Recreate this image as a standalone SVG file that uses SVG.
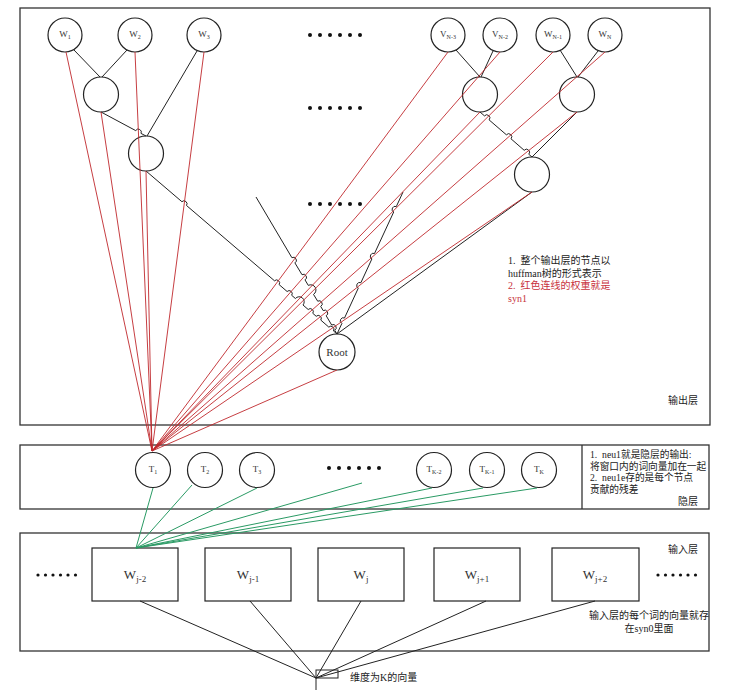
<svg xmlns="http://www.w3.org/2000/svg" width="732" height="696" viewBox="0 0 732 696">
<style>
.box{fill:none;stroke:#333;stroke-width:1.3}
.nd{fill:#fff;stroke:#222;stroke-width:1.2}
.ib{fill:#fff;stroke:#222;stroke-width:1.2}
.lb{font-family:"Liberation Serif","Noto Sans CJK SC",serif;font-size:9px;fill:#333;text-anchor:middle}
.sb{font-size:6px}
.il{font-family:"Liberation Serif","Noto Sans CJK SC",serif;font-size:13px;fill:#333;text-anchor:middle}
.is{font-size:9px}
.tx{font-family:"Liberation Serif","Noto Sans CJK SC",serif;font-size:10px;fill:#222}
.sm{font-size:9.7px}
.rd{fill:#c8323c}
.bl{stroke:#222;stroke-width:1;fill:none}
.re{stroke:#c0282d;stroke-width:0.9;fill:none}
.gr{stroke:#2a9a64;stroke-width:1;fill:none}
.dot{fill:#111}
</style>
<rect width="732" height="696" fill="#fff"/>
<g id="layers">
<rect class="box" x="20" y="8" width="690" height="417"/>
<rect class="box" x="20" y="445" width="689" height="64"/>
<line class="box" x1="582" y1="445" x2="582" y2="509"/>
<rect class="box" x="20" y="533" width="689" height="118"/>
</g>
<g id="nodes">
<g id="w1"><circle class="nd" cx="65" cy="35" r="17"/><text class="lb" x="65" y="37">W<tspan class="sb" dy="2">1</tspan></text></g>
<g id="w2"><circle class="nd" cx="135" cy="35" r="17"/><text class="lb" x="135" y="37">W<tspan class="sb" dy="2">2</tspan></text></g>
<g id="w3"><circle class="nd" cx="204" cy="35" r="17"/><text class="lb" x="204" y="37">W<tspan class="sb" dy="2">3</tspan></text></g>
<g id="vn3"><circle class="nd" cx="448" cy="35" r="17"/><text class="lb" x="448" y="37">V<tspan class="sb" dy="2">N-3</tspan></text></g>
<g id="vn2"><circle class="nd" cx="500" cy="35" r="17"/><text class="lb" x="500" y="37">V<tspan class="sb" dy="2">N-2</tspan></text></g>
<g id="wn1"><circle class="nd" cx="553" cy="35" r="17"/><text class="lb" x="553" y="37">W<tspan class="sb" dy="2">N-1</tspan></text></g>
<g id="wn"><circle class="nd" cx="605" cy="35" r="17"/><text class="lb" x="605" y="37">W<tspan class="sb" dy="2">N</tspan></text></g>
<g id="na"><circle class="nd" cx="101" cy="94.5" r="17.5"/></g>
<g id="nb"><circle class="nd" cx="146" cy="153.5" r="17.5"/></g>
<g id="nc"><circle class="nd" cx="480" cy="94.5" r="17.5"/></g>
<g id="ndd"><circle class="nd" cx="577" cy="94.5" r="17.5"/></g>
<g id="ne"><circle class="nd" cx="532" cy="174.5" r="17.5"/></g>
<g id="root"><circle class="nd" cx="337" cy="352" r="18"/><text class="lb" x="337" y="356" style="font-size:11px">Root</text></g>
<g id="t1"><circle class="nd" cx="153" cy="470" r="17.5"/><text class="lb" x="153" y="472">T<tspan class="sb" dy="2">1</tspan></text></g>
<g id="t2"><circle class="nd" cx="205" cy="470" r="17.5"/><text class="lb" x="205" y="472">T<tspan class="sb" dy="2">2</tspan></text></g>
<g id="t3"><circle class="nd" cx="257" cy="470" r="17.5"/><text class="lb" x="257" y="472">T<tspan class="sb" dy="2">3</tspan></text></g>
<g id="tk2"><circle class="nd" cx="434" cy="470" r="17.5"/><text class="lb" x="434" y="472">T<tspan class="sb" dy="2">K-2</tspan></text></g>
<g id="tk1"><circle class="nd" cx="487" cy="470" r="17.5"/><text class="lb" x="487" y="472">T<tspan class="sb" dy="2">K-1</tspan></text></g>
<g id="tk"><circle class="nd" cx="539" cy="470" r="17.5"/><text class="lb" x="539" y="472">T<tspan class="sb" dy="2">K</tspan></text></g>
<g id="in1"><rect class="ib" x="92" y="548" width="86" height="53"/><text class="il" x="135" y="579">W<tspan class="is" dy="3">j-2</tspan></text></g>
<g id="in2"><rect class="ib" x="205" y="548" width="86" height="53"/><text class="il" x="248" y="579">W<tspan class="is" dy="3">j-1</tspan></text></g>
<g id="in3"><rect class="ib" x="318" y="548" width="86" height="53"/><text class="il" x="361" y="579">W<tspan class="is" dy="3">j</tspan></text></g>
<g id="in4"><rect class="ib" x="434" y="548" width="86" height="53"/><text class="il" x="477" y="579">W<tspan class="is" dy="3">j+1</tspan></text></g>
<g id="in5"><rect class="ib" x="552" y="548" width="87" height="53"/><text class="il" x="595" y="579">W<tspan class="is" dy="3">j+2</tspan></text></g>
</g>
<g id="dots">
<g class="dot">
<circle cx="310" cy="35" r="2"/><circle cx="320" cy="35" r="2"/><circle cx="330" cy="35" r="2"/><circle cx="340" cy="35" r="2"/><circle cx="350" cy="35" r="2"/><circle cx="360" cy="35" r="2"/>
<circle cx="310" cy="108" r="2"/><circle cx="320" cy="108" r="2"/><circle cx="330" cy="108" r="2"/><circle cx="340" cy="108" r="2"/><circle cx="350" cy="108" r="2"/><circle cx="360" cy="108" r="2"/>
<circle cx="310" cy="204" r="2"/><circle cx="320" cy="204" r="2"/><circle cx="330" cy="204" r="2"/><circle cx="340" cy="204" r="2"/><circle cx="350" cy="204" r="2"/><circle cx="360" cy="204" r="2"/>
<circle cx="329" cy="468" r="2"/><circle cx="339" cy="468" r="2"/><circle cx="349" cy="468" r="2"/><circle cx="359" cy="468" r="2"/><circle cx="369" cy="468" r="2"/><circle cx="379" cy="468" r="2"/>
<circle cx="38" cy="575" r="1.6"/><circle cx="45.5" cy="575" r="1.6"/><circle cx="53" cy="575" r="1.6"/><circle cx="60.5" cy="575" r="1.6"/><circle cx="68" cy="575" r="1.6"/><circle cx="75.5" cy="575" r="1.6"/>
<circle cx="658" cy="575" r="1.6"/><circle cx="665.5" cy="575" r="1.6"/><circle cx="673" cy="575" r="1.6"/><circle cx="680.5" cy="575" r="1.6"/><circle cx="688" cy="575" r="1.6"/><circle cx="695.5" cy="575" r="1.6"/>
</g>
</g>
<g id="connectors">
<g class="bl">
<line x1="74" y1="50" x2="100" y2="77"/>
<line x1="127" y1="50" x2="102" y2="77"/>
<path d="M101,112 L135.7,130.6 A3,3 0 0 1 141,133.4 L146,136"/>
<line x1="197" y1="51" x2="147" y2="136"/>
<path d="M146,171 L181.9,201.7 A3,3 0 0 1 186.5,205.5 L274.5,280.8 A3,3 0 0 1 279.1,284.6 L287.1,291.5 A3,3 0 0 1 291.7,295.3 L295.4,298.5 A5,5 0 0 1 303,305 L308.2,309.5 A3,3 0 0 1 312.8,313.3 L316.2,316.3 A3,3 0 0 1 320.8,320.1 L328.8,327.1 A3,3 0 0 1 333.4,330.9 L337,334"/>
<path d="M256,197 L291.9,257.7 A3,3 0 0 1 294.9,262.9 L302,274.7 A3,3 0 0 1 305,279.9 L308.3,285.4 A5.2,5.2 0 0 1 313.5,294.4 L317.7,301.2 A3,3 0 0 1 320.7,306.4 L323.2,310.6 A3,3 0 0 1 326.2,315.8 L331.7,325 A3,3 0 0 1 334.7,330.2 L337,334"/>
<path d="M403,192 L396.3,206.6 A3,3 0 0 0 393.7,212 L374.5,253.5 A3,3 0 0 0 371.9,258.9 L360.9,282.7 A3,3 0 0 0 358.3,288.1 L344.5,318 A3,3 0 0 0 341.9,323.4 L337,334"/>
<line x1="456" y1="50" x2="480" y2="77"/>
<line x1="493" y1="51" x2="481" y2="77"/>
<line x1="560" y1="50" x2="577" y2="77"/>
<line x1="598" y1="51" x2="578" y2="77"/>
<path d="M480,112 L484.5,115.9 A3,3 0 0 1 489.1,119.9 L506.4,134.8 A3,3 0 0 1 511,138.8 L524.2,150.3 A3,3 0 0 1 528.8,154.3 L532,157"/>
<line x1="577" y1="112" x2="532" y2="157"/>
<line x1="532" y1="192" x2="337" y2="334"/>
<line x1="140" y1="601" x2="316" y2="678"/>
<line x1="250" y1="601" x2="316" y2="678"/>
<line x1="361" y1="601" x2="316" y2="678"/>
<line x1="486" y1="601" x2="316" y2="678"/>
<line x1="595" y1="601" x2="316" y2="678"/>
<line x1="316" y1="678" x2="316" y2="690"/>
<rect x="316" y="670" width="22" height="8"/>
</g>
<g class="re">
<line x1="152" y1="451" x2="66" y2="52"/>
<line x1="152" y1="451" x2="101" y2="112"/>
<line x1="152" y1="451" x2="135" y2="52"/>
<line x1="152" y1="451" x2="146" y2="171"/>
<line x1="152" y1="451" x2="204" y2="52"/>
<line x1="152" y1="451" x2="448" y2="52"/>
<line x1="152" y1="451" x2="500" y2="52"/>
<line x1="152" y1="451" x2="553" y2="52"/>
<line x1="152" y1="451" x2="605" y2="52"/>
<line x1="152" y1="451" x2="480" y2="112"/>
<line x1="152" y1="451" x2="577" y2="112"/>
<line x1="152" y1="451" x2="532" y2="192"/>
<line x1="152" y1="451" x2="337" y2="370"/>
</g>
<g class="gr">
<line x1="153" y1="488" x2="136" y2="548"/>
<line x1="192" y1="485" x2="136" y2="548"/>
<line x1="257" y1="488" x2="136" y2="548"/>
<line x1="362" y1="483" x2="136" y2="548"/>
<line x1="432" y1="488" x2="136" y2="548"/>
<line x1="483" y1="488" x2="136" y2="548"/>
<line x1="537" y1="488" x2="136" y2="548"/>
</g>
</g>
<g id="labels">
<text class="tx" x="508" y="264" xml:space="preserve">1.  整个输出层的节点以</text>
<text class="tx" x="508" y="276.5">huffman树的形式表示</text>
<text class="tx rd" x="508" y="289" xml:space="preserve">2.  红色连线的权重就是</text>
<text class="tx rd" x="508" y="301.5">syn1</text>
<text class="tx" x="698" y="404" text-anchor="end">输出层</text>
<text class="tx sm" x="590" y="457.5" xml:space="preserve">1.  neu1就是隐层的输出:</text>
<text class="tx sm" x="590" y="469.5">将窗口内的词向量加在一起</text>
<text class="tx sm" x="590" y="481" xml:space="preserve">2.  neu1e存的是每个节点</text>
<text class="tx sm" x="590" y="492.5">贡献的残差</text>
<text class="tx" x="698" y="505" text-anchor="end">隐层</text>
<text class="tx" x="698" y="553" text-anchor="end">输入层</text>
<text class="tx" x="649" y="619" text-anchor="middle">输入层的每个词的向量就存</text>
<text class="tx" x="649" y="632" text-anchor="middle">在syn0里面</text>
<text class="tx" x="350" y="681">维度为K的向量</text>
</g>
</svg>
